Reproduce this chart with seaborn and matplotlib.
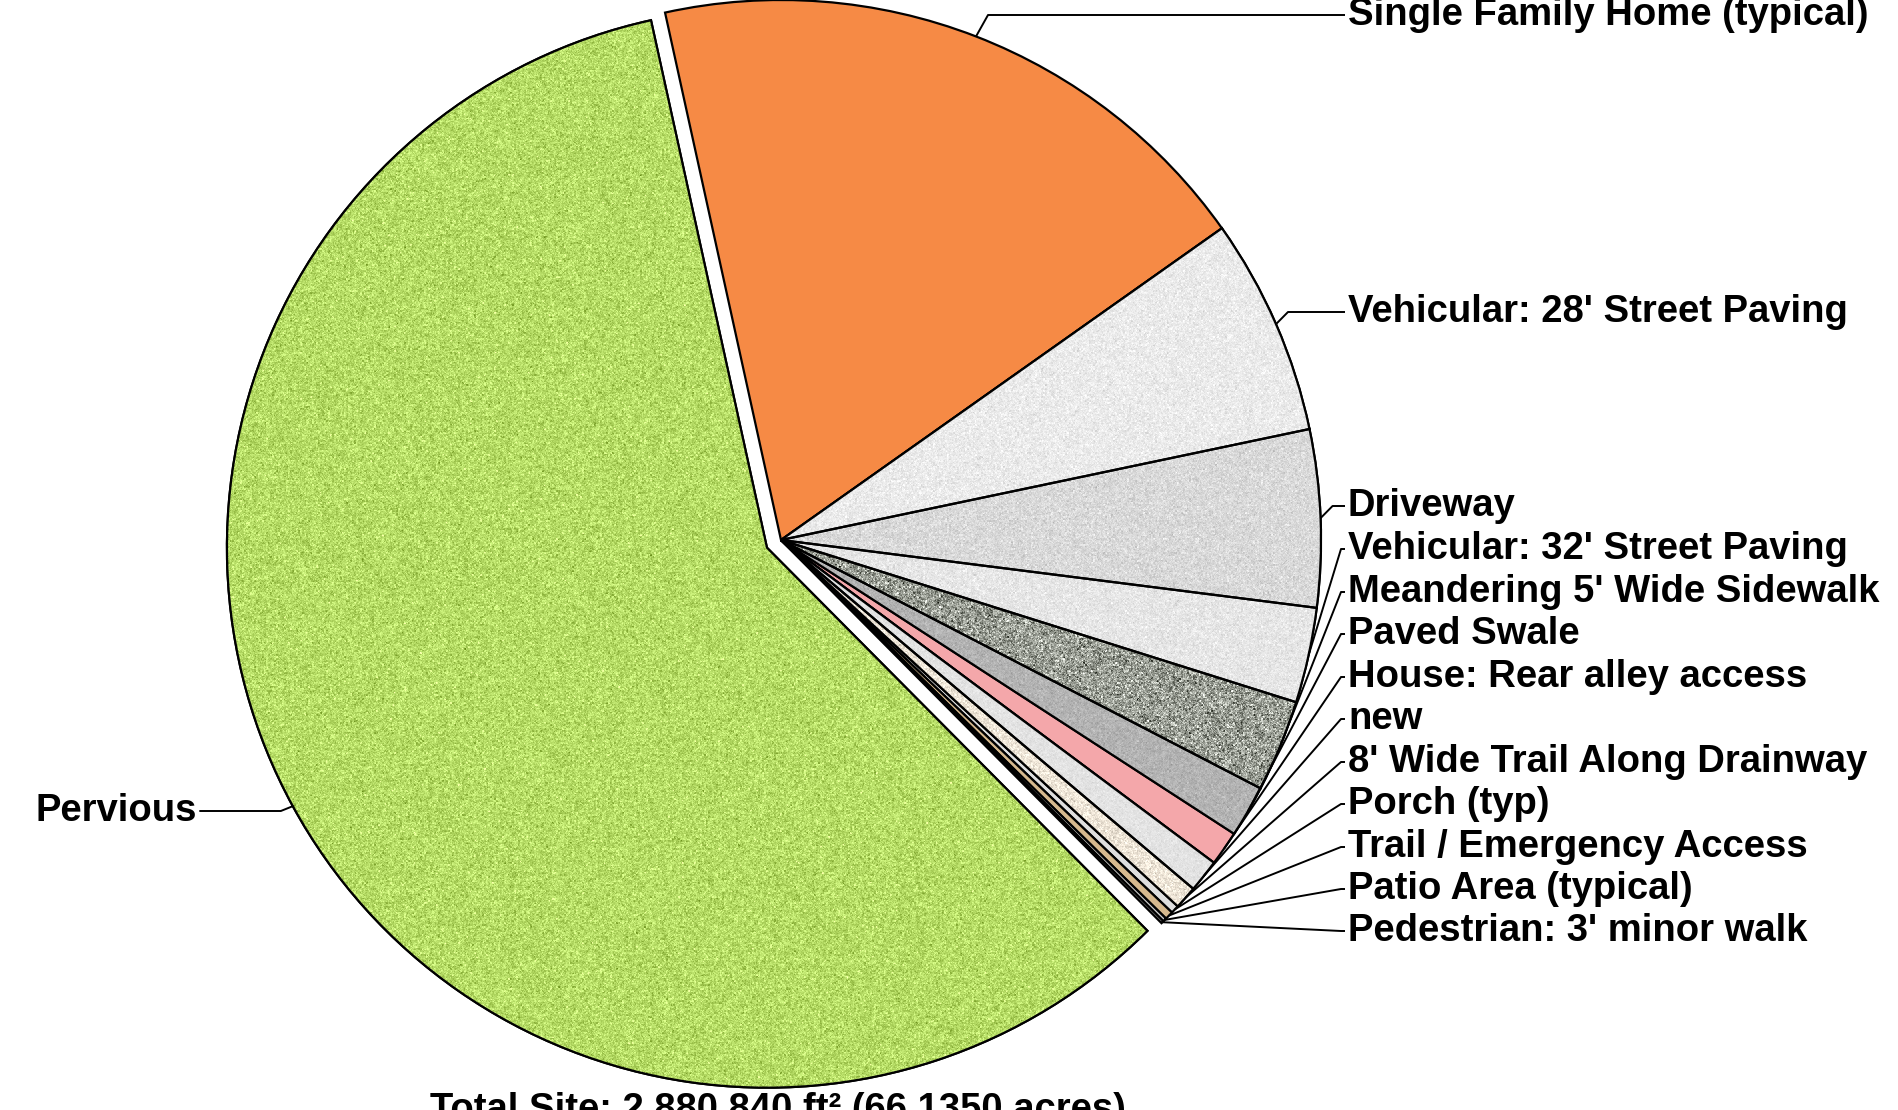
import numpy as np
import matplotlib
matplotlib.use("Agg")
import matplotlib.pyplot as plt
import matplotlib.patches as mpatches
import matplotlib.colors as mcolors
import seaborn as sns

# ---------------- data ----------------
categories = [
    "Single Family Home (typical)",
    "Vehicular: 28' Street Paving",
    "Driveway",
    "Vehicular: 32' Street Paving",
    "Meandering 5' Wide Sidewalk",
    "Paved Swale",
    "House: Rear alley access",
    "new",
    "8' Wide Trail Along Drainway",
    "Porch (typ)",
    "Trail / Emergency Access",
    "Patio Area (typical)",
    "Pedestrian: 3' minor walk",
    "Pervious",
]
shares = [18.65, 6.50, 5.30, 2.85, 2.75, 1.55, 1.04, 0.98, 0.69, 0.25, 0.25, 0.11, 0.08, 59.0]
total_label = "Total Site: 2,880,840 ft\u00b2 (66.1350 acres)"

# ---------------- style ----------------
sns.set_style("white")
plt.rcParams["font.family"] = ["Liberation Sans", "DejaVu Sans"]

colors = ["#f68a45", "#ebebeb", "#d9d9d9", "#e6e6e6", "#9a9e95", "#b3b3b3",
          "#f4a7aa", "#e3e3e3", "#efe6d8", "#dedede", "#d6b98e", "#cfcfcf",
          "#a0a0a0", "#b6dc66"]
# speckle texture strength per slice (visual style only)
texture_amp = [0, 10, 12, 10, 45, 10, 0, 6, 18, 0, 0, 0, 0, 22]

W, H = 1899, 1110
fig = plt.figure(figsize=(W / 100, H / 100), dpi=100)
ax = fig.add_axes([0, 0, 1, 1])

cx, cy, R = 781, H - 540, 540
start = 102.4
gap = 16  # explode offset (pixels) of the Pervious slice
explode = [0.0] * 13 + [gap]

wedges, _ = ax.pie(shares, colors=colors, explode=explode, startangle=start,
                   counterclock=False, radius=R, center=(cx, cy), frame=True,
                   wedgeprops=dict(edgecolor="black", linewidth=1.6))
ax.set_xlim(0, W)
ax.set_ylim(0, H)
ax.set_aspect("equal")
ax.axis("off")

# speckled textures clipped to wedges
rng = np.random.default_rng(7)
for w, amp, col in zip(wedges, texture_amp, colors):
    if amp == 0:
        continue
    (wx, wy) = w.center
    x0, x1 = int(wx - R - 2), int(wx + R + 2)
    y0, y1 = int(wy - R - 2), int(wy + R + 2)
    hh, ww = y1 - y0, x1 - x0
    base = np.array(mcolors.to_rgb(col))
    n = rng.normal(0, 1, (hh, ww))
    n2 = rng.normal(0, 1, (hh // 2 + 1, ww // 2 + 1))
    n2 = np.kron(n2, np.ones((2, 2)))[:hh, :ww]
    noise = (0.6 * n + 0.6 * n2) * amp / 255.0
    img = np.clip(base[None, None, :] + noise[..., None], 0, 1)
    im = ax.imshow(img, extent=[x0, x1, y0, y1], origin="lower",
                   interpolation="nearest", zorder=1.5)
    im.set_clip_path(w)
    outline = mpatches.Wedge(w.center, w.r, w.theta1, w.theta2, fc="none",
                             ec="black", lw=1.6, zorder=2)
    ax.add_patch(outline)
ax.set_xlim(0, W)
ax.set_ylim(0, H)

# label layout (image coordinates, y from top)
label_x = 1348
label_y_img = [15, 312, 506, 549, 592, 634, 677, 719, 762, 804, 847, 889, 931]
fs = 27.5

total = sum(shares)
cum = 0.0
mids = []
for v in shares:
    mids.append(start - (cum + v / 2) / total * 360.0)
    cum += v

for i, name in enumerate(categories[:-1]):
    a = np.deg2rad(mids[i])
    px, py = cx + R * np.cos(a), cy + R * np.sin(a)
    ly = H - label_y_img[i]
    if i < 3:
        xs = [px, px + 12, label_x - 3]
        ys = [py, ly, ly]
    else:
        xs = [px, label_x - 7, label_x - 3]
        ys = [py, ly, ly]
    ax.plot(xs, ys, color="black", lw=1.4, solid_capstyle="butt", zorder=5)
    ax.text(label_x, ly, name, fontsize=fs, fontweight="bold", ha="left",
            va="center", color="black", zorder=6)

# Pervious label on the left
a = np.deg2rad(mids[-1])
gx = cx + gap * np.cos(a)
gy = cy + gap * np.sin(a)
px, py = gx + R * np.cos(a), gy + R * np.sin(a)
ly = H - 811
ax.plot([px, px - 12, 200], [py, ly, ly], color="black", lw=1.4, zorder=5)
ax.text(197, ly, categories[-1], fontsize=fs, fontweight="bold", ha="right",
        va="center", color="black", zorder=6)

# Total label (cut by bottom edge like the reference)
fig.text(430 / W, 1 - 1092 / H, total_label, fontsize=fs, fontweight="bold",
         ha="left", va="top", color="black")

fig.savefig("out.png", dpi=100, facecolor="white")
